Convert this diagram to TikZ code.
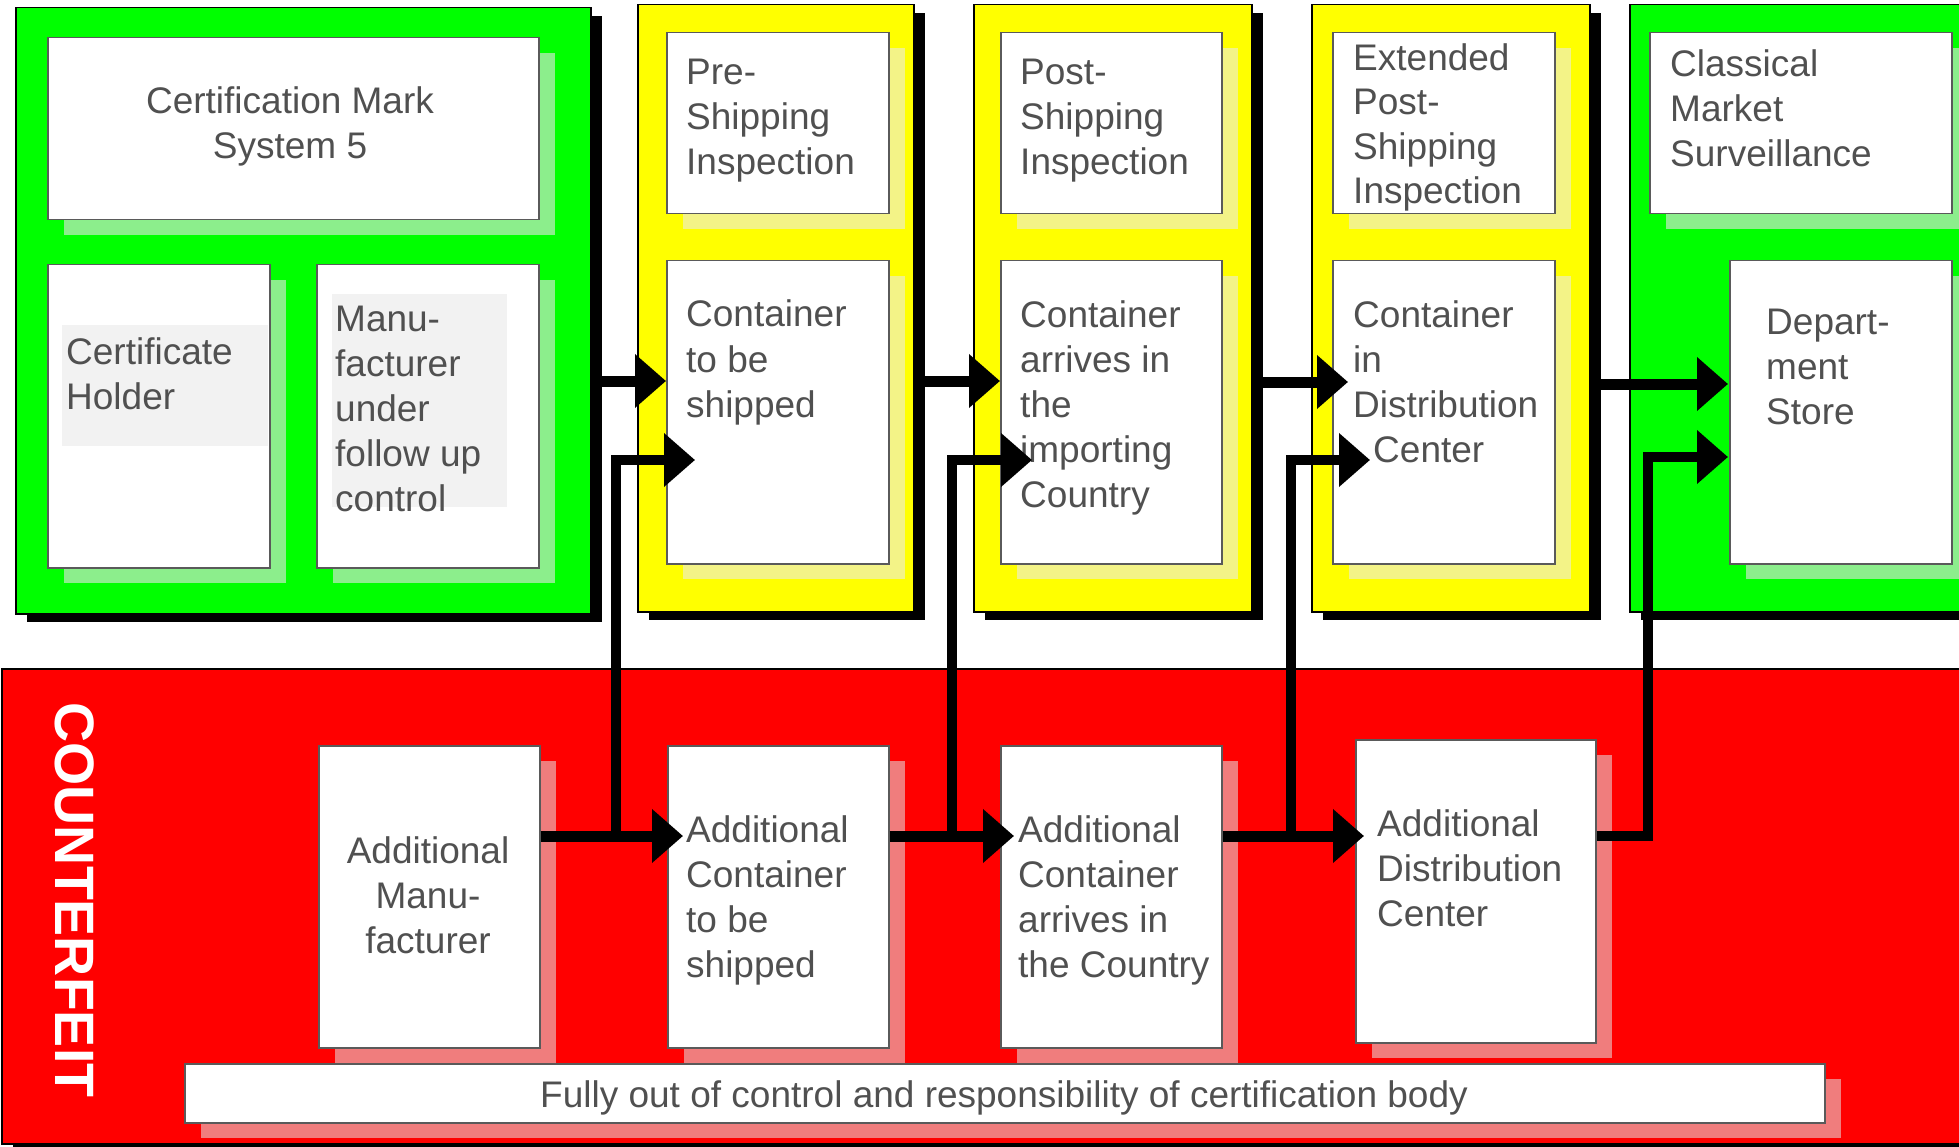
\documentclass[tikz,border=0pt]{standalone}
\usepackage{fontspec}
\setmainfont{Liberation Sans}
\usetikzlibrary{arrows.meta,shadows,calc}
\definecolor{pgreen}{RGB}{0,255,0}
\definecolor{pyellow}{RGB}{255,255,0}
\definecolor{pred}{RGB}{255,0,0}
\definecolor{gshadow}{RGB}{140,238,140}
\definecolor{yshadow}{RGB}{243,243,135}
\definecolor{rshadow}{RGB}{240,125,125}
\definecolor{txt}{RGB}{80,80,80}
\definecolor{bordergray}{RGB}{90,90,90}
\definecolor{labelbg}{RGB}{242,242,242}
\begin{document}
\begin{tikzpicture}[x=1pt,y=-1pt,
  panel/.style={draw=black, line width=1.5pt, anchor=north west, inner sep=0pt,
    drop shadow={shadow xshift=11pt, shadow yshift=-8pt, fill=black, opacity=1}},
  wbox/.style={draw=bordergray, line width=1.5pt, fill=white, anchor=north west, inner sep=0pt},
  gbox/.style={wbox, drop shadow={shadow xshift=16pt, shadow yshift=-15pt, fill=gshadow, opacity=1}},
  ybox/.style={wbox, drop shadow={shadow xshift=16pt, shadow yshift=-15pt, fill=yshadow, opacity=1}},
  rbox/.style={wbox, drop shadow={shadow xshift=16pt, shadow yshift=-15pt, fill=rshadow, opacity=1}},
  lbl/.style={text=txt, font=\fontsize{37}{45}\selectfont, align=left, anchor=base west, inner sep=0pt},
  clbl/.style={lbl, align=center, anchor=base},
  arr/.style={line width=11pt, line join=miter, -{Triangle[length=31pt,width=52pt]}}
]
\useasboundingbox (0,0) rectangle (1959,1147);
\clip (0,0) rectangle (1959,1147);
\fill[white] (0,0) rectangle (1959,1147);

% panels
\node[panel, fill=pgreen, minimum width=575pt, minimum height=606pt] (G1) at (15,7) {};
\node[panel, fill=pyellow, minimum width=276pt, minimum height=607pt] (Y1) at (637,4) {};
\node[panel, fill=pyellow, minimum width=278pt, minimum height=607pt] (Y2) at (973,4) {};
\node[panel, fill=pyellow, minimum width=278pt, minimum height=607pt] (Y3) at (1311,4) {};
\node[panel, fill=pgreen, minimum width=400pt, minimum height=607pt] (G2) at (1629,4) {};
\node[panel, fill=pred, minimum width=2000pt, minimum height=475pt] (R) at (1,668) {};

% inner boxes
\node[gbox, minimum width=491pt, minimum height=182pt] (CM) at (47,37) {};
\node[gbox, minimum width=222pt, minimum height=303pt] (CH) at (47,264) {};
\node[gbox, minimum width=222pt, minimum height=303pt] (MF) at (316,264) {};
\node[ybox, minimum width=222pt, minimum height=181pt] (PSI) at (666,32) {};
\node[ybox, minimum width=222pt, minimum height=303pt] (CS) at (666,260) {};
\node[ybox, minimum width=221pt, minimum height=181pt] (POSI) at (1000,32) {};
\node[ybox, minimum width=221pt, minimum height=303pt] (CA) at (1000,260) {};
\node[ybox, minimum width=222pt, minimum height=181pt] (EPSI) at (1332,32) {};
\node[ybox, minimum width=222pt, minimum height=303pt] (CD) at (1332,260) {};
\node[gbox, minimum width=302pt, minimum height=181pt] (CMS) at (1649,32) {};
\node[gbox, minimum width=222pt, minimum height=303pt] (DS) at (1729,260) {};
\node[rbox, minimum width=221pt, minimum height=302pt] (AM) at (318,745) {};
\node[rbox, minimum width=221pt, minimum height=302pt] (AC) at (667,745) {};
\node[rbox, minimum width=221pt, minimum height=302pt] (AA) at (1000,745) {};
\node[rbox, minimum width=240pt, minimum height=303pt] (AD) at (1355,739) {};
\node[rbox, minimum width=1640pt, minimum height=59pt] (FO) at (184,1063) {};

% label backgrounds
\fill[labelbg] (62,325) rectangle (268,446);
\fill[labelbg] (332,294) rectangle (507,507);

% texts (anchored at the baseline of the last line)
\node[clbl] (tCM) at (290,159) {Certification Mark\\System 5};
\node[lbl] (tCH) at (66,409) {Certificate\\Holder};
\node[lbl] (tMF) at (335,511) {Manu-\\facturer\\under\\follow up\\control};
\node[lbl] (tPSI) at (686,175) {Pre-\\Shipping\\Inspection};
\node[lbl] (tPOSI) at (1020,175) {Post-\\Shipping\\Inspection};
\node[lbl, font=\fontsize{37}{44.5}\selectfont] (tEPSI) at (1353,204) {Extended\\Post-\\Shipping\\Inspection};
\node[lbl] (tCMS) at (1670,167) {Classical\\Market\\Surveillance};
\node[lbl] (tCS) at (686,417) {Container\\to be\\shipped};
\node[lbl] (tCA) at (1020,507) {Container\\arrives in\\the\\importing\\Country};
\node[lbl] (tCD) at (1353,462) {Container\\in\\Distribution\\\hspace*{20pt}Center};
\node[lbl] (tDS) at (1766,424) {Depart-\\ment\\Store};
\node[clbl] (tAM) at (428,953) {Additional\\Manu-\\facturer};
\node[lbl] (tAC) at (686,977) {Additional\\Container\\to be\\shipped};
\node[lbl] (tAA) at (1018,977) {Additional\\Container\\arrives in\\the Country};
\node[lbl] (tAD) at (1377,926) {Additional\\Distribution\\Center};
\node[clbl] (tFO) at (1004,1107) {Fully out of control and responsibility of certification body};
\node[rotate=-90, text=white, font=\fontsize{55.5}{60}\selectfont\bfseries, inner sep=0pt] (CF) at (75,900) {COUNTERFEIT};

% connectors
\coordinate (t1) at (666,381);
\coordinate (t2) at (1000,381);
\coordinate (t3) at (1348,382);
\coordinate (t4) at (1728,384);
\draw[arr] (G1.east|-t1) -- (t1);
\draw[arr] (Y1.east|-t2) -- (t2);
\draw[arr] (Y2.east|-t3) -- (t3);
\draw[arr] (Y3.east|-t4) -- (t4);

\coordinate (b1) at (683,836);
\coordinate (b2) at (1014,836);
\coordinate (b3) at (1364,836);
\draw[arr] (AM.east|-b1) -- (b1);
\draw[arr] (AC.east|-b2) -- (b2);
\draw[arr] (AA.east|-b3) -- (b3);

\coordinate (j1) at (616,836);
\coordinate (u1) at (695,460);
\coordinate (j2) at (952,836);
\coordinate (u2) at (1032,460);
\coordinate (j3) at (1291,836);
\coordinate (u3) at (1370,460);
\coordinate (j4) at (1648,836);
\coordinate (u4) at (1728,457);
\draw[arr, line width=10.5pt] (j1) |- (u1);
\draw[arr, line width=10.5pt] (j2) |- (u2);
\draw[arr, line width=10.5pt] (j3) |- (u3);
\draw[arr, line width=10.5pt] (AD.east|-j4) -- (j4) |- (u4);
\end{tikzpicture}
\end{document}
